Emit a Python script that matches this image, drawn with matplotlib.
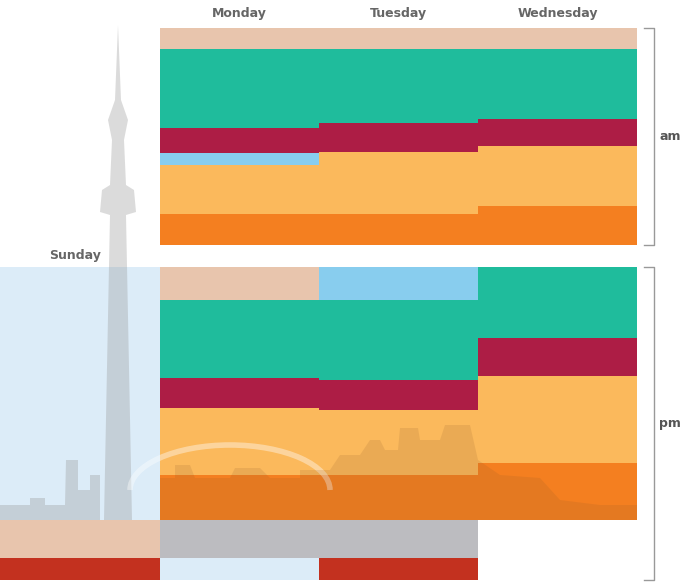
import matplotlib
matplotlib.use("Agg")
import matplotlib.pyplot as plt
from matplotlib.patches import Polygon, Arc

days = ["Sunday", "Monday", "Tuesday", "Wednesday"]
colors = {"peach": "#e8c5ad", "teal": "#1fbc9c", "crimson": "#ad1d45", "sky": "#88cdee",
          "light": "#fbb95c", "orange": "#f47f20", "gray": "#bcbcc0", "pale": "#dcecf8", "red": "#c3311f"}

# segment sizes (top to bottom), in chart units
am_segments = {
    "Monday": [("peach", 21), ("teal", 79), ("crimson", 25), ("sky", 12), ("light", 49), ("orange", 31)],
    "Tuesday": [("peach", 21), ("teal", 74), ("crimson", 29), ("light", 62), ("orange", 31)],
    "Wednesday": [("peach", 21), ("teal", 70), ("crimson", 27), ("light", 60), ("orange", 39)],
}
pm_segments = {
    "Sunday": [("pale", 253), ("peach", 38), ("red", 22)],
    "Monday": [("peach", 33), ("teal", 78), ("crimson", 30), ("light", 67), ("orange", 45), ("gray", 38), ("pale", 22)],
    "Tuesday": [("sky", 33), ("teal", 80), ("crimson", 30), ("light", 65), ("orange", 45), ("gray", 38), ("red", 22)],
    "Wednesday": [("teal", 71), ("crimson", 38), ("light", 87), ("orange", 57)],
}

fig = plt.figure(figsize=(6.8, 5.82), dpi=100)
ax = fig.add_axes([0, 0, 1, 1])
ax.set_xlim(0, 680)
ax.set_ylim(582, 0)
ax.axis("off")

col_x = {"Sunday": 0, "Monday": 160, "Tuesday": 319, "Wednesday": 478}
col_w = {"Sunday": 160, "Monday": 159, "Tuesday": 159, "Wednesday": 159}

def draw(segs, top):
    for d, lst in segs.items():
        y = top
        for c, h in lst:
            ax.bar(col_x[d], h, width=col_w[d], bottom=y, align="edge", color=colors[c], linewidth=0, zorder=1)
            y += h

draw(am_segments, 28)
draw(pm_segments, 267)

for d in ["Monday", "Tuesday", "Wednesday"]:
    ax.text(col_x[d] + col_w[d] / 2, 13, d, ha="center", va="center", fontsize=9, color="#666666", fontweight="bold")
ax.text(75, 255, "Sunday", ha="center", va="center", fontsize=9, color="#666666", fontweight="bold")

# brackets
for t, b, lab in [(28, 245, "am"), (267, 580, "pm")]:
    ax.plot([644, 654, 654, 644], [t, t, b, b], color="#999999", lw=1)
    ax.text(670, (t + b) / 2, lab, ha="center", va="center", fontsize=9, color="#555555", fontweight="bold")

# decorative skyline (tower + buildings)
g = "#9a9a9a"
tower = [(104, 520), (110, 215), (100, 212), (102, 190), (110, 185), (112, 140), (108, 120),
         (115, 100), (118, 25), (121, 100), (128, 120), (124, 140), (126, 185), (134, 190),
         (136, 212), (126, 215), (132, 520)]
ax.add_patch(Polygon(tower, closed=True, color=g, alpha=0.35, lw=0, zorder=2))
sky = [(0, 520), (0, 505), (30, 505), (30, 498), (45, 498), (45, 505), (65, 505), (66, 460),
       (78, 460), (78, 490), (90, 490), (90, 475), (100, 475), (100, 520)]
ax.add_patch(Polygon(sky, closed=True, color=g, alpha=0.35, lw=0, zorder=2))
ax.add_patch(Arc((230, 490), 200, 90, theta1=180, theta2=360, color="white", alpha=0.4, lw=4, zorder=2))
city = [(160, 520), (160, 478), (175, 478), (175, 465), (190, 465), (195, 478), (230, 478), (235, 468),
        (260, 468), (270, 478), (300, 478), (300, 470), (330, 470), (340, 455), (360, 455), (370, 440),
        (380, 440), (385, 450), (398, 450), (400, 428), (418, 428), (420, 440), (440, 440), (445, 425),
        (470, 425), (478, 460), (500, 475), (540, 478), (560, 500), (600, 505), (637, 505), (637, 520)]
ax.add_patch(Polygon(city, closed=True, color="#8a5a2a", alpha=0.15, lw=0, zorder=2))

fig.savefig("out.png", dpi=100)
